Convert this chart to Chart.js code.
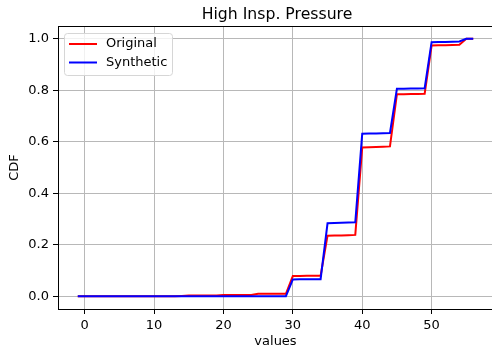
<!DOCTYPE html>
<html>
<head>
<meta charset="utf-8">
<script src="https://cdn.jsdelivr.net/npm/chart.js@4/dist/chart.umd.min.js"></script>
<style>
  html, body { margin: 0; padding: 0; background: #fff; overflow: hidden; }
  #wrap { width: 494px; height: 354px; }
</style>
</head>
<body>
<div id="wrap"><canvas id="cdf" width="494" height="354"></canvas></div>
<script>
const TITLE = "High Insp. Pressure";
const X_LABEL = "values";
const Y_LABEL = "CDF";

const xValues = [
  -1, 0, 1, 2, 3, 4, 5, 6, 7, 8, 9, 10, 11, 12, 13, 14, 15, 16, 17, 18, 19,
  20, 21, 22, 23, 24, 25, 26, 27, 28, 29, 30, 31, 32, 33, 34, 35, 36, 37, 38,
  39, 40, 41, 42, 43, 44, 45, 46, 47, 48, 49, 50, 51, 52, 53, 54, 55, 56,
];

const original = [
  0, 0, 0, 0, 0, 0, 0, 0, 0, 0, 0, 0, 0, 0, 0,
  0.001,
  0.002, 0.002, 0.002, 0.002, 0.002,
  0.004, 0.004, 0.004, 0.004, 0.004,
  0.009, 0.009, 0.009, 0.009, 0.009,
  0.078, 0.078, 0.079, 0.079, 0.079,
  0.235, 0.236, 0.236, 0.237, 0.238,
  0.578, 0.579, 0.58, 0.581, 0.582,
  0.785, 0.785, 0.786, 0.786, 0.787,
  0.974, 0.975, 0.975, 0.976, 0.977,
  1, 1,
];

const synthetic = [
  0, 0, 0, 0, 0, 0, 0, 0, 0, 0, 0, 0, 0, 0, 0, 0,
  0, 0, 0, 0, 0, 0, 0, 0, 0, 0, 0, 0, 0, 0, 0,
  0.065, 0.066, 0.066, 0.066, 0.066,
  0.283, 0.284, 0.285, 0.286, 0.287,
  0.631, 0.632, 0.632, 0.633, 0.634,
  0.806, 0.806, 0.807, 0.807, 0.808,
  0.987, 0.988, 0.988, 0.989, 0.99,
  1, 1,
];

const xTicks = [0, 10, 20, 30, 40, 50];
const yTicks = [0, 0.2, 0.4, 0.6, 0.8, 1.0];

const FONT = "'DejaVu Sans', Verdana, sans-serif";
const TICK_PX = 13;
const TITLE_PX = 15.7;

function points(ys) {
  return xValues.map((x, i) => ({ x: x, y: ys[i] }));
}

// top spine, title and matplotlib-like legend
const mplExtras = {
  id: "mplExtras",
  afterDraw(chart) {
    const { ctx, chartArea: a } = chart;
    ctx.save();
    ctx.strokeStyle = "#000";
    ctx.lineWidth = 1;
    ctx.beginPath();
    ctx.moveTo(a.left, Math.round(a.top) + 0.5);
    ctx.lineTo(a.right, Math.round(a.top) + 0.5);
    ctx.stroke();

    ctx.fillStyle = "#000";
    ctx.font = TITLE_PX + "px " + FONT;
    ctx.textAlign = "center";
    ctx.textBaseline = "alphabetic";
    ctx.fillText(TITLE, (a.left + a.right) / 2 + 1.5, 18.5);

    // legend box
    const bx = 64.5, by = 33.5, bw = 108, bh = 42, r = 3;
    ctx.beginPath();
    ctx.moveTo(bx + r, by);
    ctx.lineTo(bx + bw - r, by);
    ctx.arcTo(bx + bw, by, bx + bw, by + r, r);
    ctx.lineTo(bx + bw, by + bh - r);
    ctx.arcTo(bx + bw, by + bh, bx + bw - r, by + bh, r);
    ctx.lineTo(bx + r, by + bh);
    ctx.arcTo(bx, by + bh, bx, by + bh - r, r);
    ctx.lineTo(bx, by + r);
    ctx.arcTo(bx, by, bx + r, by, r);
    ctx.closePath();
    ctx.fillStyle = "rgba(255,255,255,0.8)";
    ctx.fill();
    ctx.strokeStyle = "#d6d6d6";
    ctx.lineWidth = 1;
    ctx.stroke();

    const items = [
      { label: "Original", color: "#ff0000", y: 44 },
      { label: "Synthetic", color: "#0000ff", y: 62.5 },
    ];
    ctx.font = TICK_PX + "px " + FONT;
    ctx.textAlign = "left";
    ctx.textBaseline = "middle";
    items.forEach((it) => {
      ctx.strokeStyle = it.color;
      ctx.lineWidth = 2;
      ctx.beginPath();
      ctx.moveTo(69, it.y);
      ctx.lineTo(97, it.y);
      ctx.stroke();
      ctx.fillStyle = "#000";
      ctx.fillText(it.label, 106, it.y);
    });
    ctx.restore();
  },
};

new Chart(document.getElementById("cdf"), {
  type: "line",
  data: {
    datasets: [
      {
        label: "Original",
        data: points(original),
        borderColor: "#ff0000",
        borderWidth: 2,
        pointRadius: 0,
        tension: 0,
        fill: false,
        order: 2,
      },
      {
        label: "Synthetic",
        data: points(synthetic),
        borderColor: "#0000ff",
        borderWidth: 2,
        pointRadius: 0,
        tension: 0,
        fill: false,
        order: 1,
      },
    ],
  },
  options: {
    responsive: false,
    animation: false,
    events: [],
    layout: { padding: { top: 26, left: 0, right: 1, bottom: 0 } },
    plugins: {
      legend: { display: false },
      title: { display: false },
      tooltip: { enabled: false },
    },
    scales: {
      x: {
        type: "linear",
        min: -3.85,
        max: 58.85,
        afterFit: (s) => { s.height = 45; },
        afterBuildTicks: (s) => { s.ticks = xTicks.map((v) => ({ value: v })); },
        title: {
          display: true,
          text: X_LABEL,
          color: "#000",
          font: { family: FONT, size: TICK_PX },
          padding: { top: 0, bottom: 5 },
        },
        grid: { color: "#b8b8b8", lineWidth: 1, tickLength: 5, tickColor: "#000", drawTicks: true },
        border: { color: "#000", width: 1 },
        ticks: {
          color: "#000",
          font: { family: FONT, size: TICK_PX },
          padding: 4,
          maxRotation: 0,
          callback: (v) => String(v),
        },
      },
      y: {
        type: "linear",
        min: -0.05,
        max: 1.05,
        afterFit: (s) => { s.width = 58; },
        afterBuildTicks: (s) => { s.ticks = yTicks.map((v) => ({ value: v })); },
        title: {
          display: true,
          text: Y_LABEL,
          color: "#000",
          font: { family: FONT, size: TICK_PX },
          padding: { top: 7, bottom: 0 },
        },
        grid: { color: "#b8b8b8", lineWidth: 1, tickLength: 5, tickColor: "#000", drawTicks: true },
        border: { color: "#000", width: 1 },
        ticks: {
          color: "#000",
          font: { family: FONT, size: TICK_PX },
          padding: 4,
          callback: (v) => Number(v).toFixed(1),
        },
      },
    },
  },
  plugins: [mplExtras],
});
</script>
</body>
</html>
